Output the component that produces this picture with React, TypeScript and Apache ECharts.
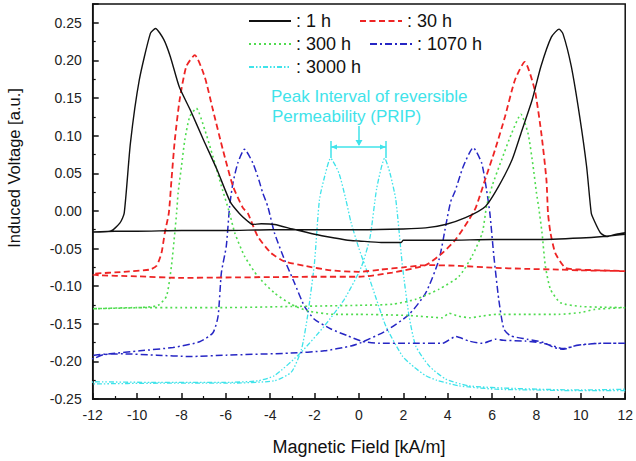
import React, { useEffect, useRef } from "react";
import * as echarts from "echarts";

// Tick values
const xTicks = [-12, -10, -8, -6, -4, -2, 0, 2, 4, 6, 8, 10, 12];
const yTicks = [-0.25, -0.2, -0.15, -0.1, -0.05, 0, 0.05, 0.1, 0.15, 0.2, 0.25];

const seriesNames = ["1 h", "30 h", "300 h", "1070 h", "3000 h"];

// 1 h : descending-field branch (x from +12 to -12), then ascending branch
const h1Down: [number, number][] = [
  [12, -0.031], [11, -0.034], [10, -0.036], [8, -0.038], [6, -0.038], [4, -0.039], [2.0, -0.039],
  [1.9, -0.042], [1, -0.042], [0, -0.04], [-0.5, -0.039], [-1.1, -0.036], [-2.0, -0.031],
  [-3.0, -0.024], [-3.8, -0.018], [-4.4, -0.017], [-4.8, -0.018], [-5.0, -0.014], [-5.4, -0.003],
  [-5.8, 0.012], [-6.4, 0.055], [-7.0, 0.094], [-7.6, 0.134], [-8.1, 0.165], [-8.5, 0.205],
  [-8.8, 0.228], [-9.17, 0.2425], [-9.4, 0.236], [-9.9, 0.174], [-10.3, 0.09], [-10.58, -0.003],
  [-10.77, -0.016], [-11.2, -0.027], [-12, -0.028],
];
const h1Up: [number, number][] = [
  [-12, -0.028], [-11, -0.027], [-10, -0.027], [-8, -0.026], [-6, -0.026], [-4, -0.025], [-2, -0.025],
  [0, -0.025], [2, -0.024], [3, -0.0226], [3.9, -0.018], [4.8, -0.009], [5.7, 0.006], [6.3, 0.033],
  [6.9, 0.068], [7.3, 0.103], [7.8, 0.147], [8.2, 0.192], [8.67, 0.231], [9.02, 0.2416], [9.2, 0.235],
  [9.57, 0.192], [9.95, 0.125], [10.26, 0.059], [10.47, -0.003], [10.58, -0.0115], [10.88, -0.029],
  [11.18, -0.034], [11.6, -0.031], [12, -0.029],
];

// 30 h
const h30Down: [number, number][] = [
  [12, -0.08], [10, -0.079], [9, -0.078], [7.5, -0.077], [6, -0.0755], [4.5, -0.073], [3, -0.072],
  [2, -0.075], [1, -0.078], [0, -0.081], [-1.26, -0.079], [-2.46, -0.073], [-3.36, -0.067],
  [-3.96, -0.056], [-4.56, -0.034], [-5.01, -0.003], [-5.23, 0.004], [-5.68, 0.033], [-6.13, 0.081],
  [-6.58, 0.134], [-6.95, 0.178], [-7.4, 0.207], [-7.78, 0.192], [-8.08, 0.148], [-8.3, 0.094],
  [-8.45, 0.041], [-8.57, -0.003], [-8.75, -0.029], [-8.9, -0.056], [-9.12, -0.073], [-9.42, -0.078],
  [-10.62, -0.081], [-12, -0.084],
];
const h30Up: [number, number][] = [
  [-12, -0.085], [-10, -0.087], [-8, -0.089], [-6, -0.0885], [-4, -0.088], [-2, -0.0875], [0, -0.0875],
  [1.5, -0.082], [3, -0.072], [3.76, -0.056], [4.36, -0.038], [4.96, -0.0115], [5.26, 0.004],
  [5.68, 0.041], [6.13, 0.081], [6.58, 0.125], [7.03, 0.174], [7.47, 0.198], [7.92, 0.161],
  [8.22, 0.103], [8.45, 0.041], [8.52, -0.003], [8.63, -0.029], [8.85, -0.056], [9.3, -0.0755],
  [10, -0.078], [12, -0.08],
];

// 300 h
const h300Down: [number, number][] = [
  [12, -0.1285], [11, -0.13], [10.6, -0.131], [10, -0.135], [9, -0.1375], [7.6, -0.1375], [6.2, -0.1375],
  [5.5, -0.14], [5, -0.142], [4.5, -0.14], [4.06, -0.136], [3.76, -0.142], [2.26, -0.139], [1, -0.138],
  [0, -0.1375], [-1.1, -0.1375], [-2.3, -0.133], [-3.06, -0.124], [-3.81, -0.109], [-4.56, -0.087],
  [-5.16, -0.06], [-5.6, -0.029], [-5.83, -0.003], [-6.2, 0.033], [-6.58, 0.072], [-6.95, 0.108],
  [-7.33, 0.1365], [-7.63, 0.125], [-7.85, 0.094], [-8.0, 0.059], [-8.15, 0.024], [-8.22, -0.003],
  [-8.3, -0.029], [-8.45, -0.073], [-8.67, -0.113], [-9.05, -0.1255], [-9.87, -0.1285], [-12, -0.13],
];
const h300Up: [number, number][] = [
  [-12, -0.13], [-10, -0.1285], [-8, -0.1285], [-6, -0.1285], [-3, -0.127], [0, -0.1255], [1.5, -0.124],
  [2.56, -0.1175], [3.61, -0.104], [4.51, -0.087], [5.1, -0.06], [5.56, -0.029], [5.75, 0.006],
  [6.0, 0.033], [6.43, 0.068], [6.88, 0.103], [7.3, 0.1285], [7.62, 0.103], [7.85, 0.059], [8.0, 0.024],
  [8.1, 0.005], [8.25, -0.029], [8.4, -0.073], [8.63, -0.104], [9.08, -0.122], [10, -0.127],
  [11, -0.128], [12, -0.1285],
];

// 1070 h
const h1070Down: [number, number][] = [
  [12, -0.176], [10.9, -0.176], [9.8, -0.179], [9.2, -0.183], [8.8, -0.18], [8.3, -0.176], [7.5, -0.173],
  [6.5, -0.172], [6.17, -0.1705], [5.56, -0.176], [4.96, -0.173], [4.36, -0.167], [3.76, -0.176],
  [2.26, -0.176], [0.91, -0.176], [0.1, -0.173], [-0.51, -0.166], [-1.26, -0.157], [-2.01, -0.144],
  [-2.46, -0.1265], [-2.91, -0.0955], [-3.36, -0.0645], [-3.81, -0.029], [-4.1, 0.005], [-4.35, 0.025],
  [-4.5, 0.04], [-4.78, 0.0636], [-5.16, 0.082], [-5.46, 0.0636], [-5.68, 0.037], [-5.83, 0.006],
  [-5.98, -0.047], [-6.2, -0.082], [-6.35, -0.14], [-6.58, -0.162], [-7.18, -0.174], [-8.38, -0.1815],
  [-9.87, -0.186], [-11.22, -0.19], [-12, -0.1925],
];
const h1070Up: [number, number][] = [
  [-12, -0.197], [-11.5, -0.191], [-10.62, -0.19], [-9.12, -0.1917], [-7.63, -0.1935], [-5.98, -0.1917],
  [-3.06, -0.189], [-1.56, -0.186], [-0.36, -0.1795], [0.1, -0.175], [1.21, -0.1595], [2.26, -0.1375],
  [3.01, -0.109], [3.61, -0.0645], [3.91, -0.02], [4.13, 0.012], [4.33, 0.026], [4.7, 0.059],
  [5.15, 0.084], [5.53, 0.0636], [5.75, 0.028], [5.9, -0.003], [6.08, -0.06], [6.3, -0.1175],
  [6.53, -0.157], [6.83, -0.166], [7.58, -0.1705], [8.33, -0.175], [8.78, -0.1815], [9.23, -0.184],
  [9.82, -0.1785], [10.88, -0.176], [12, -0.176],
];

// 3000 h
const h3000Down: [number, number][] = [
  [12, -0.239], [10, -0.239], [8, -0.238], [6.17, -0.237], [4.51, -0.2325], [3.5, -0.225], [3.01, -0.219],
  [2.5, -0.208], [1.96, -0.193], [1.21, -0.153], [0.76, -0.115], [0.3, -0.075], [0, -0.05],
  [-0.36, -0.015], [-0.59, 0.015], [-0.9, 0.05], [-1.28, 0.07], [-1.51, 0.05], [-1.78, 0.015],
  [-2.01, -0.0707], [-2.32, -0.1404], [-2.59, -0.1838], [-3.04, -0.214], [-3.81, -0.2258], [-6, -0.229],
  [-9, -0.229], [-12, -0.23],
];
const h3000Up: [number, number][] = [
  [-12, -0.227], [-9, -0.228], [-6.05, -0.228], [-4.56, -0.2258], [-3.81, -0.219], [-2.61, -0.188],
  [-1.56, -0.153], [-0.66, -0.1175], [0.1, -0.075], [0.5, -0.035], [0.8, 0.03], [1.16, 0.07],
  [1.4, 0.05], [1.66, 0.015], [1.96, -0.073], [2.26, -0.14], [2.56, -0.1795], [3.16, -0.206],
  [3.91, -0.2235], [4.96, -0.2325], [7, -0.236], [10, -0.238], [12, -0.237],
];

const loops = [
  [h1Down, h1Up],
  [h30Down, h30Up],
  [h300Down, h300Up],
  [h1070Down, h1070Up],
  [h3000Down, h3000Up],
];

const colors = ["#111111", "#ee2424", "#4fdc4f", "#2626c4", "#3fe3ea"];
const widths = [1.4, 1.8, 1.6, 1.5, 1.3];
const dashes: any[] = ["solid", [6, 3.5], [2, 3], [7, 3, 2, 3], [5, 2, 1.5, 2, 1.5, 2]];

const FONT = "'Liberation Sans', Arial, sans-serif";

export default function App() {
  const ref = useRef<HTMLDivElement>(null);
  useEffect(() => {
    if (!ref.current) return;
    const chart = echarts.init(ref.current, null, { renderer: "svg" });

    const series = seriesNames.map((name, i) => ({
      name,
      type: "line",
      data: [...loops[i][0], ...loops[i][1]],
      showSymbol: false,
      symbol: "none",
      smooth: 0.2,
      z: 10 - i,
      lineStyle: { color: colors[i], width: widths[i], type: dashes[i] },
      itemStyle: { color: colors[i] },
    }));

    const legendPos = [
      { left: 248, top: 12 },
      { left: 359, top: 12 },
      { left: 248, top: 35 },
      { left: 369, top: 35 },
      { left: 248, top: 58 },
    ];
    const legend = seriesNames.map((name, i) => ({
      data: [name],
      left: legendPos[i].left,
      top: legendPos[i].top,
      padding: 0,
      itemWidth: 42,
      itemHeight: 12,
      formatter: ": {name}",
      itemStyle: { opacity: 0 },
      textStyle: { fontSize: 18, color: "#111", fontFamily: FONT },
      selectedMode: false,
    }));

    const cyan = "#3fe3ea";
    chart.setOption({
      animation: false,
      backgroundColor: "#ffffff",
      textStyle: { fontFamily: FONT },
      grid: {
        left: 92.7,
        right: 10,
        top: 4,
        bottom: 60.3,
        show: true,
        borderColor: "#111",
        borderWidth: 1.5,
        backgroundColor: "transparent",
      },
      legend,
      xAxis: {
        type: "value",
        min: xTicks[0],
        max: xTicks[xTicks.length - 1],
        interval: 2,
        name: "Magnetic Field [kA/m]",
        nameLocation: "middle",
        nameGap: 39,
        nameTextStyle: { fontSize: 18, color: "#111", fontFamily: FONT },
        axisLine: { onZero: false, lineStyle: { color: "#111", width: 1.5 } },
        axisTick: { inside: true, length: 6, lineStyle: { color: "#111", width: 1.5 } },
        minorTick: { show: true, splitNumber: 2, length: 3, lineStyle: { color: "#111", width: 1.2 } },
        splitLine: { show: false },
        axisLabel: { fontSize: 14, color: "#222", margin: 9, fontFamily: FONT },
      },
      yAxis: {
        type: "value",
        min: yTicks[0],
        max: 0.275,
        interval: 0.05,
        axisLine: { onZero: false, lineStyle: { color: "#111", width: 1.5 } },
        axisTick: { inside: true, length: 6, lineStyle: { color: "#111", width: 1.5 } },
        minorTick: { show: true, splitNumber: 2, length: 3, lineStyle: { color: "#111", width: 1.2 } },
        splitLine: { show: false },
        axisLabel: {
          fontSize: 14,
          color: "#222",
          margin: 11,
          fontFamily: FONT,
          formatter: (v: number) => (v > 0.26 ? "" : v.toFixed(2)),
        },
      },
      graphic: [
        {
          type: "text",
          x: 14,
          y: 168,
          rotation: Math.PI / 2,
          style: {
            text: "Induced Voltage [a.u.]",
            fontSize: 16.5,
            fill: "#111",
            fontFamily: FONT,
            textAlign: "center",
            textVerticalAlign: "middle",
          },
        },
        {
          type: "text",
          x: 271,
          y: 96,
          style: {
            text: "Peak Interval of reversible",
            fontSize: 17,
            fill: cyan,
            fontFamily: FONT,
            textAlign: "left",
            textVerticalAlign: "middle",
          },
        },
        {
          type: "text",
          x: 272,
          y: 116,
          style: {
            text: "Permeability (PRIP)",
            fontSize: 17,
            fill: cyan,
            fontFamily: FONT,
            textAlign: "left",
            textVerticalAlign: "middle",
          },
        },
        { type: "line", shape: { x1: 359, y1: 126, x2: 359, y2: 145 }, style: { stroke: cyan, lineWidth: 1.5 } },
        { type: "polygon", shape: { points: [[355.5, 140], [362.5, 140], [359, 146]] }, style: { fill: cyan } },
        { type: "line", shape: { x1: 331, y1: 147, x2: 386, y2: 147 }, style: { stroke: cyan, lineWidth: 1.5 } },
        { type: "line", shape: { x1: 331, y1: 141, x2: 331, y2: 158 }, style: { stroke: cyan, lineWidth: 1.5 } },
        { type: "line", shape: { x1: 386, y1: 141, x2: 386, y2: 158 }, style: { stroke: cyan, lineWidth: 1.5 } },
        { type: "polygon", shape: { points: [[331, 147], [337, 144.5], [337, 149.5]] }, style: { fill: cyan } },
        { type: "polygon", shape: { points: [[386, 147], [380, 144.5], [380, 149.5]] }, style: { fill: cyan } },
      ],
      series,
    });
    return () => chart.dispose();
  }, []);
  return (
    <div
      ref={ref}
      style={{ position: "fixed", left: 0, top: 0, width: 636, height: 461, background: "#fff" }}
    />
  );
}
